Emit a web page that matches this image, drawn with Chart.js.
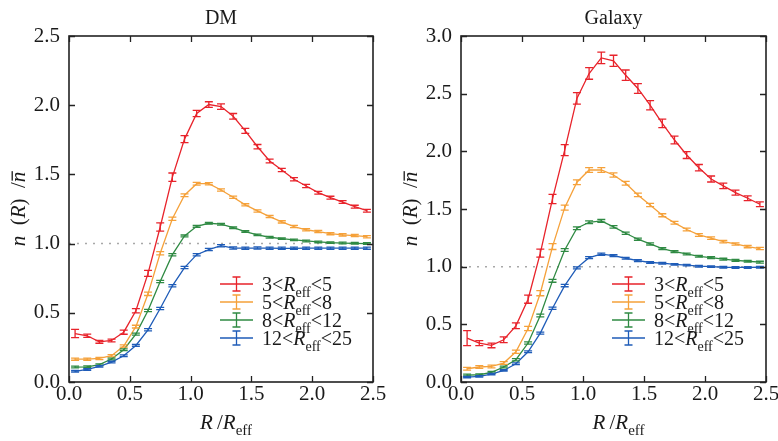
<!DOCTYPE html>
<html>
<head>
<meta charset="utf-8">
<script src="https://cdn.jsdelivr.net/npm/chart.js@4.4.1/dist/chart.umd.min.js"></script>
<style>
  body { margin: 0; background: #fff; }
  .panel { position: absolute; top: 0; width: 389px; height: 441px; }
</style>
</head>
<body>
<div class="panel" style="left:0"><canvas id="dm"></canvas></div>
<div class="panel" style="left:389px"><canvas id="galaxy"></canvas></div>
<script>
// radial bins, R / R_eff
const radius = [0.05, 0.15, 0.25, 0.35, 0.45, 0.55, 0.65, 0.75, 0.85, 0.95,
                1.05, 1.15, 1.25, 1.35, 1.45, 1.55, 1.65, 1.75, 1.85, 1.95,
                2.05, 2.15, 2.25, 2.35, 2.45];

// R_eff ranges of the four samples
const binLow = [3, 5, 8, 12];
const binHigh = [5, 8, 12, 25];
const binColors = ['#e8232b', '#f5a13a', '#2f8a43', '#1f5cb8'];

const xTicks = [0, 0.5, 1.0, 1.5, 2.0, 2.5];
const dmTicks = [0, 0.5, 1.0, 1.5, 2.0, 2.5];
const galaxyTicks = [0, 0.5, 1.0, 1.5, 2.0, 2.5, 3.0];

// dark matter density profiles
const dm1 = [0.35, 0.334, 0.29, 0.30, 0.36, 0.515, 0.785, 1.12, 1.48, 1.755, 1.94, 2.005, 1.99, 1.92, 1.815, 1.70, 1.597, 1.532, 1.465, 1.416, 1.368, 1.332, 1.30, 1.267, 1.238];
const dm1Err = [0.03, 0.012, 0.01, 0.01, 0.015, 0.015, 0.022, 0.03, 0.03, 0.025, 0.022, 0.02, 0.02, 0.02, 0.018, 0.016, 0.014, 0.012, 0.012, 0.012, 0.01, 0.01, 0.01, 0.01, 0.01];
const dm2 = [0.165, 0.165, 0.17, 0.19, 0.26, 0.40, 0.637, 0.93, 1.18, 1.35, 1.433, 1.433, 1.387, 1.335, 1.28, 1.236, 1.195, 1.157, 1.123, 1.10, 1.087, 1.072, 1.063, 1.058, 1.05];
const dm2Err = [0.008, 0.008, 0.008, 0.008, 0.008, 0.01, 0.012, 0.012, 0.012, 0.01, 0.01, 0.008, 0.008, 0.008, 0.008, 0.008, 0.008, 0.008, 0.008, 0.008, 0.008, 0.008, 0.008, 0.008, 0.008];
const dm3 = [0.108, 0.11, 0.125, 0.166, 0.233, 0.346, 0.517, 0.726, 0.92, 1.055, 1.125, 1.147, 1.14, 1.115, 1.087, 1.063, 1.046, 1.036, 1.027, 1.019, 1.012, 1.007, 1.004, 1.002, 1.0];
const dm3Err = [0.006, 0.006, 0.006, 0.006, 0.006, 0.007, 0.008, 0.008, 0.008, 0.007, 0.007, 0.006, 0.006, 0.006, 0.006, 0.006, 0.006, 0.006, 0.006, 0.006, 0.006, 0.006, 0.006, 0.006, 0.006];
const dm4 = [0.077, 0.091, 0.113, 0.144, 0.19, 0.264, 0.377, 0.531, 0.695, 0.827, 0.92, 0.957, 0.985, 0.968, 0.967, 0.968, 0.967, 0.966, 0.966, 0.967, 0.967, 0.967, 0.967, 0.967, 0.967];
const dm4Err = [0.006, 0.006, 0.006, 0.006, 0.006, 0.007, 0.008, 0.008, 0.008, 0.008, 0.008, 0.008, 0.008, 0.008, 0.008, 0.008, 0.008, 0.008, 0.008, 0.008, 0.008, 0.008, 0.008, 0.008, 0.008];

// galaxy number density profiles
const gx1 = [0.38, 0.337, 0.317, 0.366, 0.487, 0.718, 1.117, 1.587, 2.011, 2.459, 2.675, 2.81, 2.785, 2.66, 2.545, 2.40, 2.242, 2.098, 1.968, 1.858, 1.76, 1.70, 1.642, 1.593, 1.541];
const gx1Err = [0.065, 0.022, 0.02, 0.025, 0.025, 0.035, 0.035, 0.04, 0.048, 0.05, 0.05, 0.05, 0.048, 0.045, 0.042, 0.04, 0.037, 0.034, 0.03, 0.028, 0.026, 0.024, 0.022, 0.02, 0.02];
const gx2 = [0.115, 0.13, 0.135, 0.164, 0.262, 0.464, 0.77, 1.174, 1.512, 1.732, 1.838, 1.838, 1.795, 1.723, 1.622, 1.535, 1.446, 1.38, 1.322, 1.275, 1.247, 1.217, 1.197, 1.174, 1.157];
const gx2Err = [0.012, 0.012, 0.012, 0.012, 0.014, 0.018, 0.022, 0.025, 0.022, 0.02, 0.02, 0.02, 0.018, 0.016, 0.015, 0.014, 0.013, 0.012, 0.012, 0.012, 0.011, 0.011, 0.01, 0.01, 0.01];
const gx3 = [0.06, 0.063, 0.083, 0.13, 0.193, 0.338, 0.577, 0.877, 1.145, 1.333, 1.385, 1.397, 1.345, 1.29, 1.238, 1.197, 1.157, 1.13, 1.11, 1.09, 1.078, 1.065, 1.055, 1.047, 1.039];
const gx3Err = [0.008, 0.008, 0.008, 0.008, 0.009, 0.01, 0.012, 0.012, 0.012, 0.012, 0.012, 0.012, 0.01, 0.01, 0.009, 0.009, 0.008, 0.008, 0.008, 0.008, 0.008, 0.008, 0.008, 0.008, 0.008];
const gx4 = [0.043, 0.049, 0.069, 0.10, 0.158, 0.262, 0.424, 0.64, 0.836, 0.99, 1.078, 1.108, 1.096, 1.073, 1.053, 1.036, 1.03, 1.02, 1.013, 1.004, 1.0, 0.995, 0.993, 0.993, 0.995];
const gx4Err = [0.006, 0.006, 0.006, 0.006, 0.007, 0.008, 0.009, 0.01, 0.01, 0.009, 0.009, 0.009, 0.008, 0.008, 0.008, 0.007, 0.007, 0.007, 0.007, 0.007, 0.007, 0.007, 0.007, 0.007, 0.007];

const SERIF = '"Liberation Serif", "DejaVu Serif", serif';
const INK = '#1a1a1a';

// draw a row of text pieces: {t, it: italic, sub: subscript, bar: overline}
function drawRuns(ctx, runs, x, y, size, align) {
  const fontOf = r => (r.it ? 'italic ' : '') + (r.sub ? Math.round(size * 0.72) : size) + 'px ' + SERIF;
  let total = 0;
  runs.forEach(r => { ctx.font = fontOf(r); r.w = ctx.measureText(r.t).width; total += r.w; });
  let cx = align === 'center' ? x - total / 2 : x;
  ctx.textAlign = 'left';
  ctx.textBaseline = 'alphabetic';
  runs.forEach(r => {
    ctx.font = fontOf(r);
    ctx.fillText(r.t, cx, y + (r.sub ? size * 0.28 : 0));
    if (r.bar) {
      ctx.fillRect(cx + 1.5, y - size * 0.64, r.w - 1, 1.3);
    }
    cx += r.w;
  });
}

const errorBars = {
  id: 'errorBars',
  afterDatasetsDraw(chart) {
    const { ctx, scales: { x, y } } = chart;
    chart.data.datasets.forEach(ds => {
      if (!ds.errors) return;
      ctx.save();
      ctx.strokeStyle = ds.borderColor;
      ctx.lineWidth = 1.3;
      ds.data.forEach((p, i) => {
        const px = x.getPixelForValue(p.x);
        const hi = y.getPixelForValue(p.y + ds.errors[i]);
        const lo = y.getPixelForValue(p.y - ds.errors[i]);
        ctx.beginPath();
        ctx.moveTo(px, hi); ctx.lineTo(px, lo);
        ctx.moveTo(px - 4, hi); ctx.lineTo(px + 4, hi);
        ctx.moveTo(px - 4, lo); ctx.lineTo(px + 4, lo);
        ctx.stroke();
      });
      ctx.restore();
    });
  }
};

const panelDecor = {
  id: 'panelDecor',
  afterDraw(chart, args, opts) {
    const { ctx, chartArea: { left, right, top, bottom }, scales: { x, y } } = chart;
    ctx.save();
    // box and inward ticks
    ctx.strokeStyle = '#222';
    ctx.lineWidth = 1.6;
    ctx.strokeRect(left, top, right - left, bottom - top);
    ctx.lineWidth = 1.3;
    ctx.beginPath();
    x.ticks.forEach(t => {
      const px = Math.round(x.getPixelForValue(t.value)) + 0.5;
      ctx.moveTo(px, bottom); ctx.lineTo(px, bottom - 6);
      ctx.moveTo(px, top); ctx.lineTo(px, top + 6);
    });
    y.ticks.forEach(t => {
      const py = Math.round(y.getPixelForValue(t.value)) + 0.5;
      ctx.moveTo(left, py); ctx.lineTo(left + 6, py);
      ctx.moveTo(right, py); ctx.lineTo(right - 6, py);
    });
    ctx.stroke();

    ctx.fillStyle = INK;
    // panel title
    ctx.font = '20px ' + SERIF;
    ctx.textAlign = 'center';
    ctx.textBaseline = 'alphabetic';
    ctx.fillText(opts.title, (left + right) / 2, 23.5);

    // x axis title
    drawRuns(ctx, [{ t: 'R', it: true }, { t: '\u2009/' }, { t: 'R', it: true }, { t: 'eff', sub: true }],
             (left + right) / 2 + 5, 429, 21, 'center');

    // y axis title
    ctx.save();
    ctx.translate(left - 44, (top + bottom) / 2);
    ctx.rotate(-Math.PI / 2);
    drawRuns(ctx, [{ t: 'n', it: true }, { t: '\u2002(' }, { t: 'R', it: true }, { t: ')\u2002/' }, { t: 'n', it: true, bar: true }],
             0, 0, 21, 'center');
    ctx.restore();

    // legend with error-bar keys
    binLow.forEach((lo, i) => {
      const ry = top + 248 + i * 18;
      const kx = left + 151;
      ctx.strokeStyle = binColors[i];
      ctx.lineWidth = 1.3;
      ctx.beginPath();
      ctx.moveTo(kx, ry); ctx.lineTo(kx + 33, ry);
      ctx.moveTo(kx + 16.5, ry - 7); ctx.lineTo(kx + 16.5, ry + 7);
      ctx.moveTo(kx + 12.5, ry - 7); ctx.lineTo(kx + 20.5, ry - 7);
      ctx.moveTo(kx + 12.5, ry + 7); ctx.lineTo(kx + 20.5, ry + 7);
      ctx.stroke();
      ctx.fillStyle = INK;
      drawRuns(ctx, [{ t: lo + '<' }, { t: 'R', it: true }, { t: 'eff', sub: true }, { t: '<' + binHigh[i] }],
               left + 193, ry + 7, 20, 'left');
    });
    ctx.restore();
  }
};

function makePanel(id, title, series, errors, yTicks, yMax, axisWidth, padRight) {
  const datasets = series.map((vals, i) => ({
    data: radius.map((r, k) => ({ x: r, y: vals[k] })),
    errors: errors[i],
    borderColor: binColors[i],
    borderWidth: 1.3,
    pointRadius: 0,
    tension: 0,
    fill: false
  }));
  // dotted reference level n = mean
  datasets.push({
    data: [{ x: 0, y: 1 }, { x: 2.5, y: 1 }],
    borderColor: '#a8a8a8',
    borderWidth: 1.5,
    borderDash: [2, 6],
    pointRadius: 0,
    fill: false
  });

  return new Chart(document.getElementById(id), {
    type: 'line',
    data: { datasets },
    options: {
      responsive: true,
      maintainAspectRatio: false,
      animation: false,
      devicePixelRatio: 1,
      layout: { padding: { top: 36, right: padRight, left: 0, bottom: 0 } },
      plugins: {
        legend: { display: false },
        tooltip: { enabled: false },
        panelDecor: { title }
      },
      scales: {
        x: {
          type: 'linear', min: 0, max: 2.5,
          grid: { display: false, drawTicks: false },
          border: { display: false },
          afterBuildTicks: s => { s.ticks = xTicks.map(v => ({ value: v })); },
          afterFit: s => { s.height = 59; s.paddingLeft = 0; s.paddingRight = 0; },
          ticks: {
            padding: 0, color: INK, maxRotation: 0,
            font: { family: SERIF, size: 21 },
            callback: v => v.toFixed(1)
          }
        },
        y: {
          type: 'linear', min: 0, max: yMax,
          grid: { display: false, drawTicks: false },
          border: { display: false },
          afterBuildTicks: s => { s.ticks = yTicks.map(v => ({ value: v })); },
          afterFit: s => { s.width = axisWidth; s.paddingTop = 0; s.paddingBottom = 0; },
          ticks: {
            padding: 9, color: INK,
            font: { family: SERIF, size: 21 },
            callback: v => v.toFixed(1)
          }
        }
      }
    },
    plugins: [errorBars, panelDecor]
  });
}

makePanel('dm', 'DM', [dm1, dm2, dm3, dm4], [dm1Err, dm2Err, dm3Err, dm4Err], dmTicks, 2.5, 69, 16);
makePanel('galaxy', 'Galaxy', [gx1, gx2, gx3, gx4], [gx1Err, gx2Err, gx3Err, gx4Err], galaxyTicks, 3.0, 72, 12);
</script>
</body>
</html>
